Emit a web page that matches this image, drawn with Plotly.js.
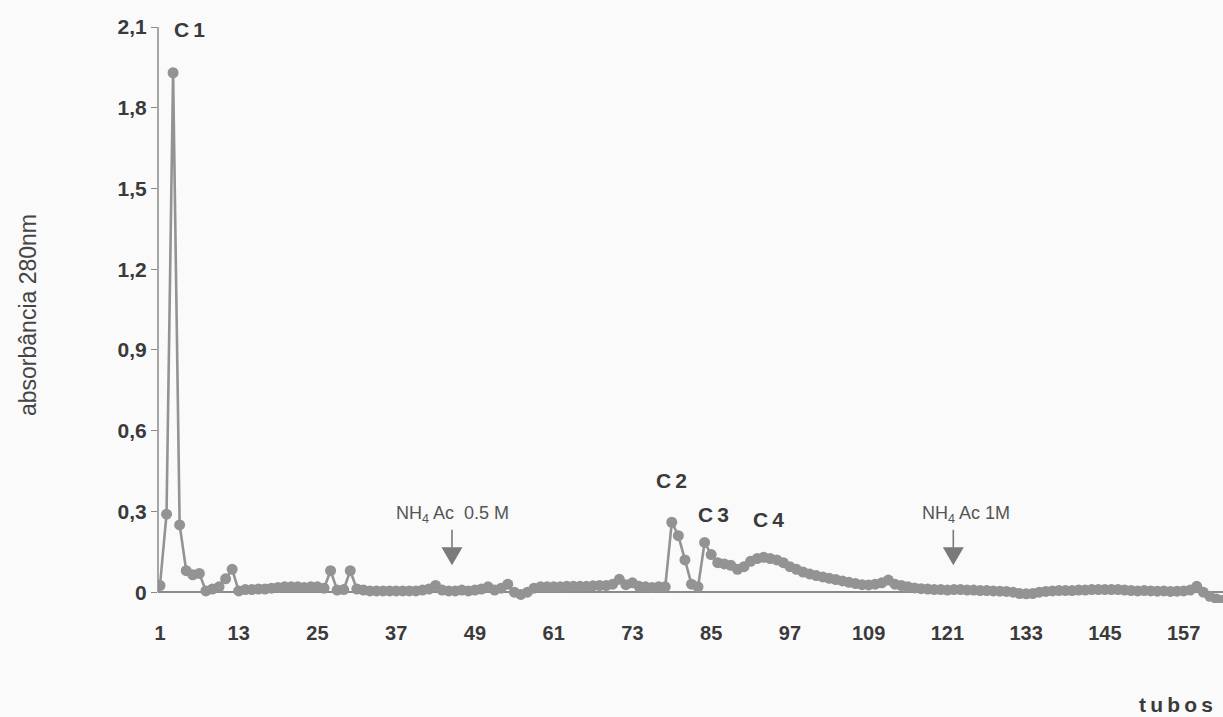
<!DOCTYPE html>
<html>
<head>
<meta charset="utf-8">
<script src="https://cdn.plot.ly/plotly-3.0.1.min.js"></script>
<style>
  html, body { margin: 0; padding: 0; background: #fafafa; }
  #chart { width: 1223px; height: 717px; }
</style>
</head>
<body>
<div id="chart"></div>
<script>
const absorbance = [
  0.025, 0.29, 1.93, 0.25, 0.08, 0.065, 0.07, 0.005, 0.012, 0.02,
  0.05, 0.085, 0.005, 0.01, 0.01, 0.012, 0.012, 0.015, 0.018, 0.02,
  0.02, 0.02, 0.018, 0.02, 0.02, 0.015, 0.08, 0.008, 0.01, 0.08,
  0.012, 0.008, 0.005, 0.005, 0.005, 0.005, 0.005, 0.005, 0.005, 0.005,
  0.008, 0.012, 0.025, 0.008, 0.005, 0.005, 0.008, 0.005, 0.008, 0.012,
  0.02, 0.008, 0.015, 0.03, 0.0, -0.008, 0.0, 0.015, 0.02, 0.02,
  0.02, 0.02, 0.022, 0.022, 0.022, 0.022, 0.024, 0.025, 0.025, 0.03,
  0.048, 0.028, 0.035, 0.022, 0.02, 0.018, 0.02, 0.02, 0.26, 0.21,
  0.12, 0.03, 0.02, 0.185, 0.14, 0.11, 0.105, 0.10, 0.085, 0.095,
  0.115, 0.125, 0.13, 0.125, 0.12, 0.11, 0.095, 0.085, 0.075, 0.068,
  0.062, 0.057, 0.052, 0.047, 0.042, 0.037, 0.032, 0.028, 0.027, 0.03,
  0.035, 0.045, 0.03, 0.025, 0.02, 0.016, 0.013, 0.012, 0.01, 0.01,
  0.008, 0.01, 0.01, 0.008, 0.008, 0.006, 0.006, 0.005, 0.004, 0.003,
  0.0, -0.005, -0.006, -0.005, 0.0, 0.003, 0.005, 0.006, 0.006, 0.006,
  0.008, 0.008, 0.01, 0.01, 0.01, 0.01, 0.01, 0.008, 0.006, 0.005,
  0.006, 0.005, 0.004, 0.005, 0.003, 0.004, 0.005, 0.008, 0.022, 0.0,
  -0.015, -0.025, -0.03
];
// tube numbers (category index)
const tubes = absorbance.map((v, i) => i + 1);

const xTickVals = [1, 13, 25, 37, 49, 61, 73, 85, 97, 109, 121, 133, 145, 157];
const xTickText = ['1', '13', '25', '37', '49', '61', '73', '85', '97', '109', '121', '133', '145', '157'];
const yTickVals = [0, 0.3, 0.6, 0.9, 1.2, 1.5, 1.8, 2.1];
const yTickText = ['0', '0,3', '0,6', '0,9', '1,2', '1,5', '1,8', '2,1'];

// peak labels
const peakNames = ['C1', 'C2', 'C3', 'C4'];
const peakTubes = [5.5, 79, 85.3, 93.8];
const peakLabelY = [2.09, 0.415, 0.29, 0.27];

// elution step markers
const stepTexts = ['NH<sub>4</sub> Ac&nbsp; 0.5 M', 'NH<sub>4</sub> Ac 1M'];
const stepTubes = [45.5, 121.9];
const stepTextTubes = [45.6, 123.8];

const grey = '#939393';
const textColor = '#3a3a3a';
const fontFam = '"Liberation Sans", Arial, Helvetica, sans-serif';

const trace = {
  x: tubes,
  y: absorbance,
  type: 'scatter',
  mode: 'lines+markers',
  line: { color: grey, width: 2.6 },
  marker: { color: grey, size: 11 },
  hoverinfo: 'x+y'
};

const annotations = [];
peakNames.forEach((n, i) => {
  annotations.push({
    x: peakTubes[i], y: peakLabelY[i], xref: 'x', yref: 'y',
    xanchor: 'center',
    text: '<b>' + n.split('').join('\u2009') + '</b>',
    showarrow: false,
    font: { family: fontFam, size: 21, color: textColor }
  });
});
const shapes = [{
  type: 'line', xref: 'paper', yref: 'y', x0: 0, x1: 0, y0: 0, y1: 2.1,
  line: { color: '#8a8a8a', width: 1.5 }
}];
stepTexts.forEach((t, i) => {
  annotations.push({
    x: stepTextTubes[i], y: 0.24, xref: 'x', yref: 'y',
    xanchor: 'center', yanchor: 'bottom',
    text: t, showarrow: false,
    font: { family: fontFam, size: 18, color: '#555' }
  });
  const xs = stepTubes[i];
  shapes.push({
    type: 'line', xref: 'x', yref: 'y', x0: xs, x1: xs, y0: 0.232, y1: 0.165,
    line: { color: '#7a7a7a', width: 1.6 }
  });
  shapes.push({
    type: 'path', xref: 'x', yref: 'y',
    path: 'M' + (xs - 1.6) + ',0.167 L' + (xs + 1.6) + ',0.167 L' + xs + ',0.10 Z',
    fillcolor: '#7a7a7a', line: { width: 0 }
  });
});
annotations.push({
  xref: 'paper', yref: 'paper', x: 0.956, y: -0.177,
  xanchor: 'center', yanchor: 'middle',
  text: '<b>t\u2009u\u2009b\u2009o\u2009s</b>', showarrow: false,
  font: { family: fontFam, size: 21, color: textColor }
});

const layout = {
  width: 1223, height: 717,
  margin: { l: 158, r: 0, t: 27, b: 114 },
  paper_bgcolor: '#fafafa', plot_bgcolor: '#fafafa',
  showlegend: false,
  font: { family: fontFam, color: textColor },
  xaxis: {
    range: [0.7, 163],
    tickvals: xTickVals, ticktext: xTickText,
    ticks: 'outside', ticklen: 12, tickcolor: 'rgba(0,0,0,0)',
    tickfont: { family: fontFam, size: 20, color: textColor, weight: 'bold' },
    showgrid: false, zeroline: false, showline: false
  },
  yaxis: {
    range: [-0.04, 2.1],
    tickvals: yTickVals, ticktext: yTickText,
    ticks: 'outside', ticklen: 6, tickcolor: '#888', tickwidth: 1,
    tickfont: { family: fontFam, size: 21, color: textColor, weight: 'bold' },
    showgrid: false, zeroline: true, zerolinecolor: '#8a8a8a', zerolinewidth: 1.5,
    showline: false,
    title: { text: 'absorbância 280nm', standoff: 74,
             font: { family: fontFam, size: 23, color: '#444' } }
  },
  shapes: shapes,
  annotations: annotations
};

Plotly.newPlot('chart', [trace], layout, { displayModeBar: false, staticPlot: true });
</script>
</body>
</html>
